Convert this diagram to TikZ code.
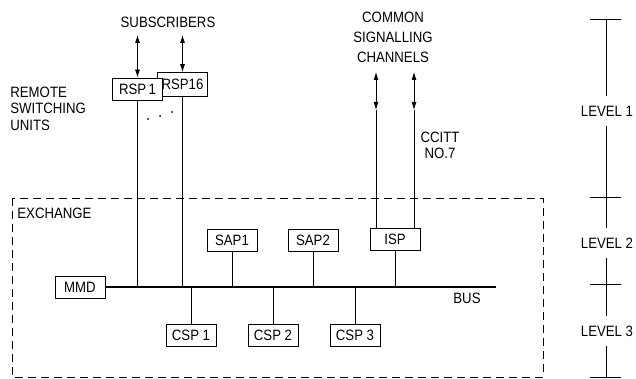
\documentclass[tikz,border=0pt]{standalone}
\usepackage{fontspec}
\setmainfont{Liberation Sans}[FakeStretch=0.88]
\usetikzlibrary{arrows.meta,positioning,calc}

\begin{document}
\begin{tikzpicture}[x=1pt, y=-1pt, line width=0.8pt,
  box/.style={draw, fill=white, minimum width=50pt, minimum height=22pt,
              inner sep=2pt, font=\fontsize{15}{17}\selectfont},
  lbl/.style={inner sep=0pt, align=center, font=\fontsize{15}{16.5}\selectfont},
  lvl/.style={inner sep=0pt, minimum height=30pt, font=\fontsize{15}{17}\selectfont},
  dbl/.style={{Latex[length=8pt,width=5pt]}-{Latex[length=8pt,width=5pt]}},
  bus/.style={line width=2.6pt},
  frame/.style={dash pattern=on 8pt off 5pt}
]
  \useasboundingbox (0,0) rectangle (636,379);

  % exchange frame
  \draw[frame] (12,198) rectangle (543,377);
  \node[lbl, anchor=west] (exch) at (17,213) {EXCHANGE};

  % bus and the processors on it
  \node[box] (mmd)  at (80,287)    {MMD};
  \coordinate (busend) at (496,287);
  \draw[bus] (mmd.east) -- (busend);
  \node[lbl] (buslbl) at (467,298) {BUS};

  \node[box] (sap1) at (232,240)   {SAP1};
  \node[box] (sap2) at (313,240)   {SAP2};
  \node[box] (isp)  at (395,239)   {ISP};
  \node[box] (csp1) at (191,335.5) {CSP 1};
  \node[box] (csp2) at (273,335.5) {CSP 2};
  \node[box] (csp3) at (355,335)   {CSP 3};

  \foreach \p in {sap1,sap2,isp}
    \draw (\p.south) -- (\p.south |- mmd.east);
  \foreach \p in {csp1,csp2,csp3}
    \draw (\p.north) -- (\p.north |- mmd.east);

  % remote switching units
  \node[box, minimum height=24pt] (rsp16) at (182.5,84.5) {RSP16};
  \node[box] (rsp1) at (137.5,89) {RSP\,1};
  \node[lbl] (subs) at (168,22) {SUBSCRIBERS};
  \node[lbl, anchor=west, align=left] (rsu) at (10,108.5) {REMOTE\\SWITCHING\\UNITS};

  \coordinate (sub1)  at (137.5,35);
  \coordinate (sub16) at (182.5,35);
  \draw[dbl] (sub1)  -- (rsp1.north);
  \draw[dbl] (sub16) -- (rsp16.north);
  \draw (rsp1.south)  -- (rsp1.south |- mmd.east);
  \draw (rsp16.south) -- (rsp16.south |- mmd.east);
  \foreach \d in {(148,119),(160,116),(172,112)}
    \fill \d circle (1pt);

  % common signalling channels
  \node[lbl, font=\fontsize{15}{20}\selectfont] (csc) at (393,37)
    {COMMON\\SIGNALLING\\CHANNELS};
  \node[lbl] (ccitt) at (440,145.5) {CCITT\\NO.7};
  \coordinate (sig1top) at (376,72);
  \coordinate (sig1bot) at (376,110);
  \coordinate (sig2top) at (414,72);
  \coordinate (sig2bot) at (414,110);
  \draw[dbl] (sig1top) -- (sig1bot);
  \draw[dbl] (sig2top) -- (sig2bot);
  \draw (sig1bot) -- (sig1bot |- isp.north);
  \draw (sig2bot) -- (sig2bot |- isp.north);

  % levels
  \coordinate (lvtop)  at (606,19);
  \coordinate (tick12) at (606,197);
  \coordinate (tick23) at (606,284);
  \coordinate (lvbot)  at (606,377);
  \node[lvl] (lv1) at (607,111) {LEVEL 1};
  \node[lvl] (lv2) at (607,243) {LEVEL 2};
  \node[lvl] (lv3) at (607,331) {LEVEL 3};
  \draw (lvtop) -- (lvtop |- lv1.north);
  \draw (lvtop |- lv1.south) -- (lvtop |- lv2.north);
  \draw (lvtop |- lv2.south) -- (lvtop |- lv3.north);
  \draw (lvtop |- lv3.south) -- (lvbot);
  \foreach \t in {lvtop,tick12,tick23,lvbot}
    \draw ([xshift=-16pt]\t) -- ([xshift=15pt]\t);
\end{tikzpicture}
\end{document}
